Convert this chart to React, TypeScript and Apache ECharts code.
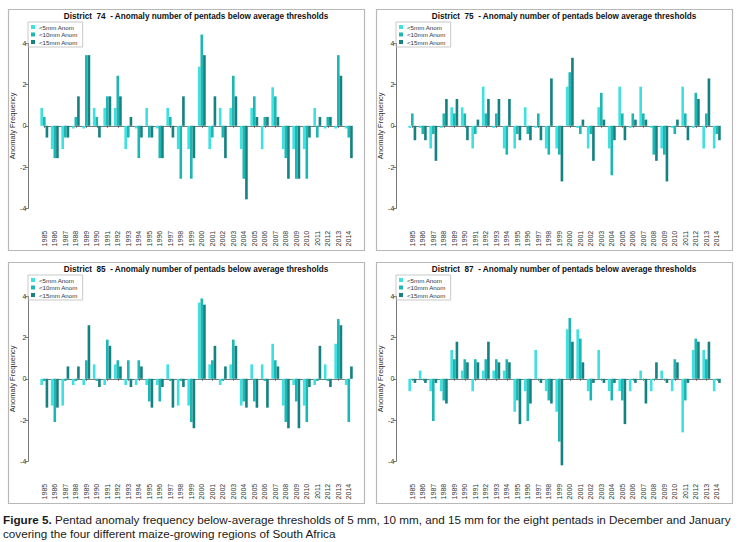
import React, { useEffect, useRef } from "react";
import * as echarts from "echarts";

const years = [
  "1985", "1986", "1987", "1988", "1989", "1990", "1991", "1992", "1993", "1994",
  "1995", "1996", "1997", "1998", "1999", "2000", "2001", "2002", "2003", "2004",
  "2005", "2006", "2007", "2008", "2009", "2010", "2011", "2012", "2013", "2014",
];

const seriesNames = ["<5mm Anom", "<10mm Anom", "<15mm Anom"];
const seriesColors = ["#3FE0E0", "#1DB6B3", "#168181"];
const yTicks = [-4, -2, 0, 2, 4];

// District 74
const d74_5 = [0.87, -1.13, -1.13, -0.13, -0.13, 0.87, 0.87, 0.87, -1.13, -0.13, 0.87, -0.13, 0.87, -1.13, -1.13, 2.87, -1.13, 0.87, 0.87, -1.13, 0.87, -1.13, 1.87, -1.13, -1.13, -1.13, 0.87, -0.13, -0.13, -0.13];
const d74_10 = [0.43, -1.57, -0.57, 0.43, 3.43, 0.43, 1.43, 2.43, -0.57, -1.57, -0.57, -1.57, 0.43, -2.57, -2.57, 4.43, -0.57, -0.57, 2.43, -2.57, 1.43, 0.43, 1.43, -1.57, -2.57, -2.57, -0.57, 0.43, 3.43, -0.57];
const d74_15 = [-0.57, -1.57, -0.57, 1.43, 3.43, -0.57, 1.43, 1.43, 0.43, -0.57, -0.57, -1.57, -0.57, 1.43, -1.57, 3.43, 1.43, -1.57, 1.43, -3.57, 0.43, 0.43, 0.43, -2.57, -2.57, -0.57, 0.43, 0.43, 2.43, -1.57];

// District 75
const d75_5 = [-0.1, -0.1, -1.1, -0.1, 0.9, 0.9, -1.1, 1.9, -0.1, -1.1, -1.1, 0.9, -0.1, -1.1, -1.1, 1.9, -0.1, -1.1, 0.9, -1.1, 1.9, -0.1, 1.9, -0.1, -1.1, -0.1, 1.9, -0.1, -1.1, -1.1];
const d75_10 = [0.6, -0.4, -0.4, 0.6, 0.6, 0.6, -0.4, 0.6, 0.6, -1.4, -0.4, -0.4, 0.6, -1.4, -1.4, 2.6, -0.4, -0.4, 1.6, -2.4, 0.6, 0.6, 0.6, -1.4, -1.4, -0.4, 0.6, 1.6, 0.6, -0.4];
const d75_15 = [-0.7, -0.7, -1.7, 1.3, 1.3, -0.7, 0.3, 1.3, 1.3, 1.3, -0.7, -0.7, -0.7, 2.3, -2.7, 3.3, 0.3, -1.7, 0.3, -0.7, -0.7, 0.3, 0.3, -1.7, -2.7, 0.3, -0.7, 1.3, 2.3, -0.7];

// District 85
const d85_5 = [-0.3, -1.3, -1.3, -0.3, -0.3, 0.7, -0.3, 0.7, -0.3, -0.3, -0.3, -0.3, 0.7, -1.3, -1.3, 3.7, 0.7, -0.3, 0.7, -1.3, 0.7, 0.7, 1.7, -1.3, -0.3, -1.3, -0.3, 0.7, 1.7, -0.3];
const d85_10 = [-0.1, -2.1, -0.1, -0.1, 0.9, -0.1, 1.9, 0.9, 0.9, 0.9, -1.1, -1.1, -0.1, -0.1, -2.1, 3.9, 0.9, -0.1, 1.9, -1.1, -1.1, -0.1, 0.9, -2.1, -1.1, -2.1, -0.1, -0.1, 2.9, -2.1];
const d85_15 = [-1.4, -1.4, 0.6, 0.6, 2.6, -0.4, 1.6, 0.6, -0.4, 0.6, -1.4, -0.4, -1.4, -0.4, -2.4, 3.6, 1.6, 0.6, 1.6, -1.4, -1.4, -1.4, 0.6, -2.4, -2.4, -0.4, 1.6, -0.4, 2.6, 0.6];

// District 87
const d87_5 = [-0.6, 0.4, -0.6, -0.6, 1.4, 0.4, -0.6, 0.4, 0.4, 0.4, -1.6, -0.6, 1.4, -0.6, -1.6, 2.4, 2.4, -0.6, 1.4, -0.6, -0.6, -0.6, 0.4, -0.6, 0.4, -0.6, -2.6, 1.4, 1.4, -0.6];
const d87_10 = [-0.05, -0.05, -2.05, -1.05, 0.95, 0.95, 0.95, 0.95, 0.95, 0.95, -1.05, -2.05, -0.05, -1.05, -3.05, 2.95, 1.95, -1.05, -0.05, -1.05, -1.05, -0.05, -0.05, -0.05, -0.05, 0.95, -1.05, 1.95, 0.95, -0.05];
const d87_15 = [-0.2, -0.2, -0.2, -1.2, 1.8, 0.8, 0.8, 1.8, 0.8, 0.8, -2.2, -1.2, -0.2, -1.2, -4.2, 1.8, 0.8, -0.2, -0.2, -0.2, -2.2, -0.2, -1.2, 0.8, -0.2, 0.8, -0.2, 1.8, 1.8, -0.2];

const districts = ["74", "75", "85", "87"];
const districtSeries = [
  [d74_5, d74_10, d74_15],
  [d75_5, d75_10, d75_15],
  [d85_5, d85_10, d85_15],
  [d87_5, d87_10, d87_15],
];

const captionBold = "Figure 5.";
const captionLine1 =
  " Pentad anomaly frequency below-average thresholds of 5 mm, 10 mm, and 15 mm for the eight pentads in December and January";
const captionLine2 = "covering the four different maize-growing regions of South Africa";

const FONT = "Liberation Sans, Arial, sans-serif";

function buildOption() {
  const origins = [
    [8, 9],
    [376, 9],
    [8, 262],
    [376, 262],
  ];
  const PW = 356;
  const PH = 241;
  const u = 20.6; // px per unit
  const zero = 116.8;
  const c0 = 36.3;
  const sp = 10.5;
  const yAx = 20.3;

  const grid: any[] = [];
  const xAxis: any[] = [];
  const yAxis: any[] = [];
  const series: any[] = [];
  const legend: any[] = [];
  const graphic: any[] = [];

  districts.forEach((d, i) => {
    const [ox, oy] = origins[i];

    // bars grid
    const gb = grid.length;
    grid.push({ left: ox + c0 - sp / 2, top: oy + zero - 5 * u, width: 30 * sp, height: 10 * u });
    xAxis.push({ gridIndex: gb, type: "category", data: years, show: false });
    yAxis.push({ gridIndex: gb, type: "value", min: -5, max: 5, show: false });
    districtSeries[i].forEach((vals, k) => {
      series.push({
        type: "bar",
        name: seriesNames[k],
        xAxisIndex: gb,
        yAxisIndex: gb,
        data: vals,
        barGap: "0%",
        barCategoryGap: "25%",
        itemStyle: { color: seriesColors[k] },
        silent: true,
      });
    });

    // y axis grid
    const gy = grid.length;
    grid.push({ left: ox + yAx, top: oy + zero - 4 * u, width: 2, height: 8 * u });
    xAxis.push({ gridIndex: gy, type: "value", show: false, min: 0, max: 1 });
    yAxis.push({
      gridIndex: gy,
      type: "value",
      min: yTicks[0],
      max: yTicks[yTicks.length - 1],
      interval: 2,
      axisLine: { show: true, lineStyle: { color: "#555", width: 0.8 } },
      axisTick: { show: true, length: 3, lineStyle: { color: "#555", width: 0.8 } },
      axisLabel: { fontSize: 7, margin: 2, color: "#333", fontFamily: FONT },
      splitLine: { show: false },
      name: "Anomaly Frequency",
      nameLocation: "middle",
      nameGap: 12,
      nameTextStyle: { fontSize: 7.5, color: "#333", fontFamily: FONT },
    });

    // x axis grid
    const gx = grid.length;
    grid.push({ left: ox + c0, top: oy + zero - 5 * u, width: 29 * sp, height: 10 * u });
    xAxis.push({
      gridIndex: gx,
      type: "category",
      data: years,
      boundaryGap: false,
      axisLine: { show: true, lineStyle: { color: "#555", width: 0.8 } },
      axisTick: { show: true, length: 2, interval: 0, lineStyle: { color: "#555", width: 0.8 } },
      axisLabel: { rotate: 90, fontSize: 7, margin: 2, interval: 0, color: "#333", fontFamily: FONT },
    });
    yAxis.push({ gridIndex: gx, type: "value", min: -5, max: 5, show: false });

    legend.push({
      left: ox + 20,
      top: oy + 13,
      orient: "vertical",
      data: seriesNames,
      icon: "rect",
      itemWidth: 4,
      itemHeight: 4,
      itemGap: 1.5,
      selectedMode: false,
      padding: [2, 5, 2, 3],
      borderColor: "#bbb",
      borderWidth: 0.8,
      textStyle: { fontSize: 6.2, color: "#333", fontFamily: FONT, padding: [0, 0, 0, -1] },
    });

    graphic.push({
      type: "rect",
      silent: true,
      shape: { x: ox + 0.5, y: oy + 0.5, width: PW, height: PH },
      style: { fill: "none", stroke: "#b8b8b8", lineWidth: 1.2 },
    });
    graphic.push({
      type: "text",
      silent: true,
      x: ox + 188,
      y: oy + 7.5,
      style: {
        text: `District  ${d}  - Anomaly number of pentads below average thresholds`,
        fontSize: 8.2,
        fontWeight: "bold",
        fontFamily: FONT,
        fill: "#111",
        align: "center",
        verticalAlign: "middle",
      },
    });
  });

  graphic.push({
    type: "text",
    silent: true,
    x: 3,
    y: 519,
    style: {
      text: `{b|${captionBold}}${captionLine1}`,
      fontSize: 11.7,
      fontFamily: FONT,
      fill: "#1a1a1a",
      verticalAlign: "middle",
      rich: { b: { fontWeight: "bold", fontSize: 11.7, fontFamily: FONT, fill: "#1a1a1a" } },
    },
  });
  graphic.push({
    type: "text",
    silent: true,
    x: 3,
    y: 533,
    style: {
      text: captionLine2,
      fontSize: 11.7,
      fontFamily: FONT,
      fill: "#1a1a1a",
      verticalAlign: "middle",
    },
  });

  return {
    animation: false,
    backgroundColor: "#fff",
    grid,
    xAxis,
    yAxis,
    series,
    legend,
    graphic,
  };
}

export default function App() {
  const ref = useRef<HTMLDivElement>(null);
  useEffect(() => {
    if (!ref.current) return;
    const chart = echarts.init(ref.current, undefined, { renderer: "svg" });
    chart.setOption(buildOption() as any);
    return () => chart.dispose();
  }, []);
  return (
    <div
      ref={ref}
      style={{ position: "absolute", left: 0, top: 0, width: 740, height: 542, background: "#fff" }}
    />
  );
}
